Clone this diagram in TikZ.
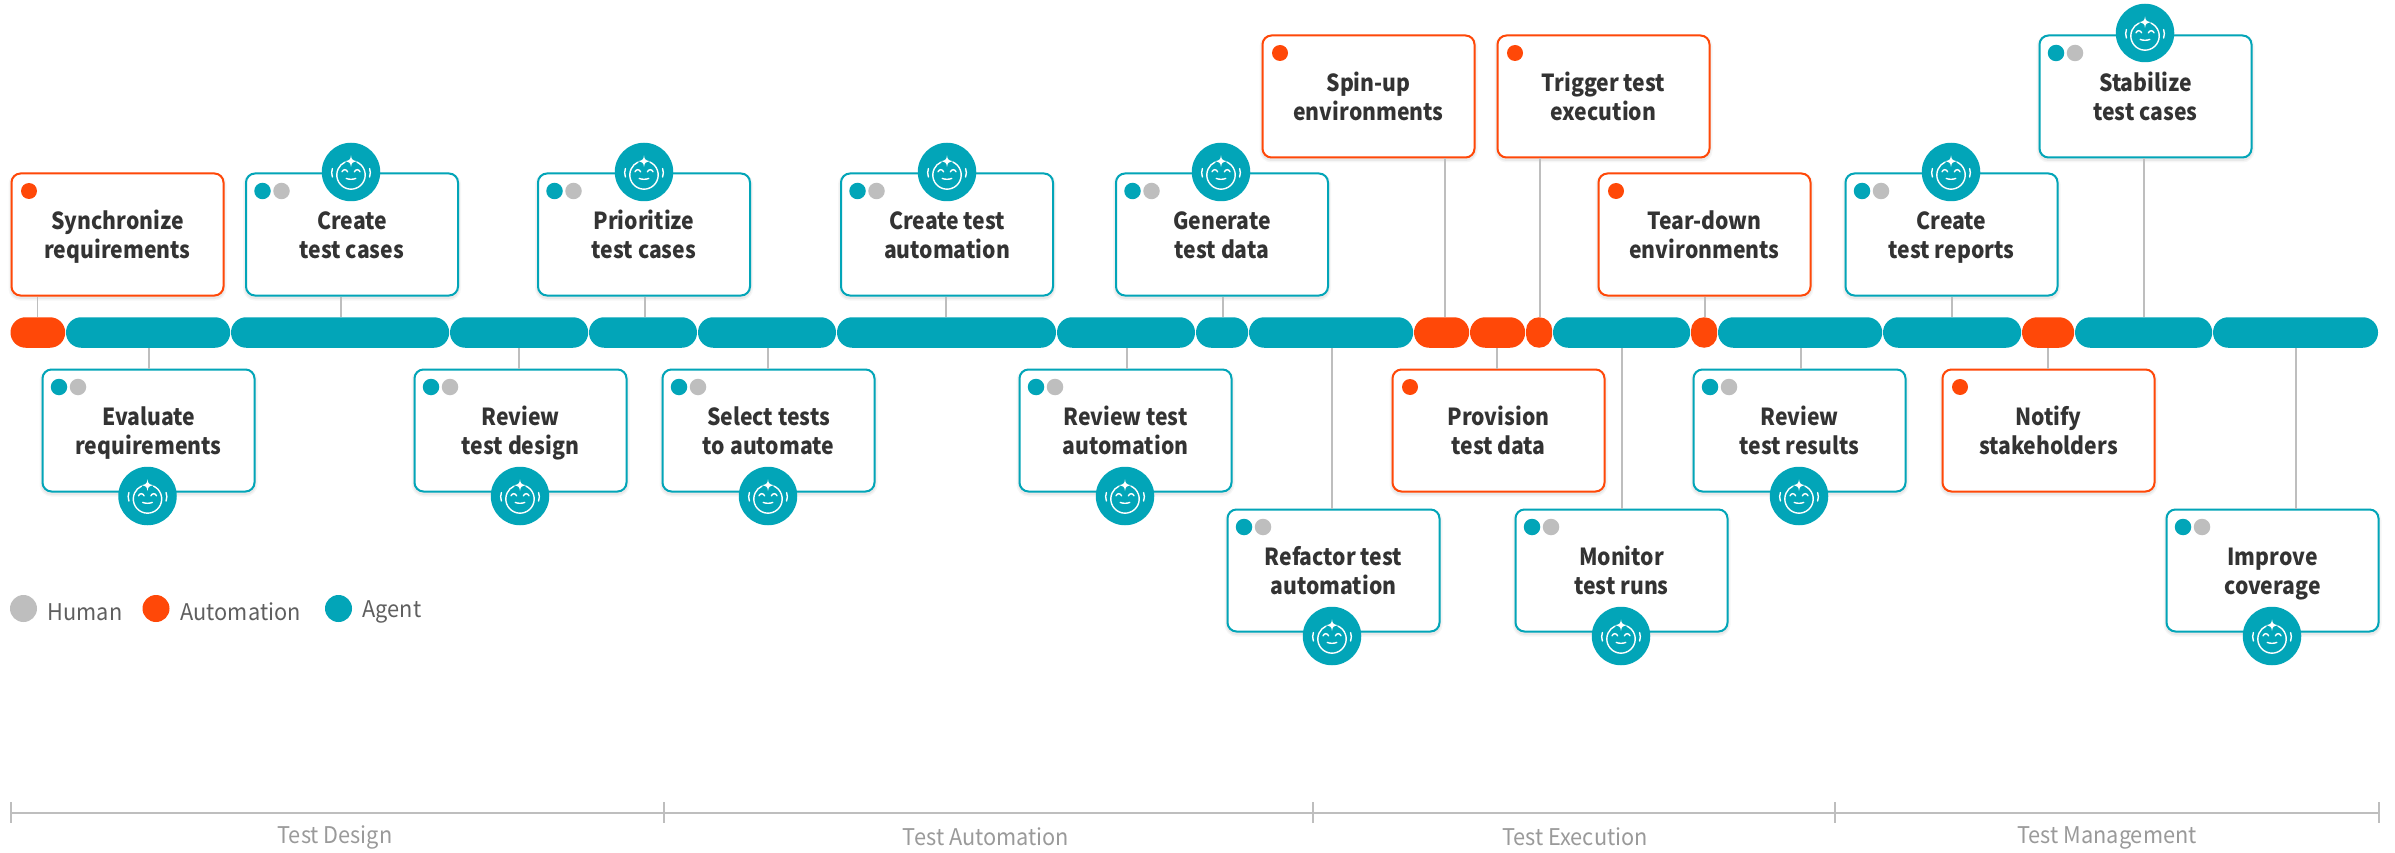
\documentclass[tikz,border=0pt]{standalone}
\usepackage{fontspec}
\setmainfont{Noto Sans CJK SC}
\newfontfamily\cardfont[FakeStretch=0.9]{Noto Sans CJK SC}
\newfontfamily\labelfont[FakeStretch=0.945]{Noto Sans CJK SC}
\usetikzlibrary{calc}
\definecolor{tealA}{HTML}{02A5B8}
\definecolor{orangeA}{HTML}{FF4808}
\definecolor{grayA}{HTML}{BEBEBE}
\definecolor{inkA}{HTML}{333333}
\definecolor{inkB}{HTML}{5F5F5F}
\definecolor{inkC}{HTML}{9A9A9A}
\tikzset{
 x=1pt,y=-1pt,
 cardbase/.style={rectangle,rounded corners=9pt,fill=white,line width=2pt,minimum width=212pt,minimum height=122pt,inner sep=0pt,
   preaction={draw=black,draw opacity=.035,line width=6pt,transform canvas={yshift=-2pt}},
   preaction={draw=black,draw opacity=.05,line width=3pt,transform canvas={yshift=-2pt}}},
 agentcard/.style={cardbase,draw=tealA},
 autocard/.style={cardbase,draw=orangeA},
 cardtext/.style={font=\cardfont\fontsize{23.5}{29}\selectfont\bfseries,text=inkA,align=center,inner sep=0pt},
 dotT/.style={circle,fill=tealA,minimum size=16.5pt,inner sep=0pt},
 dotO/.style={circle,fill=orangeA,minimum size=16pt,inner sep=0pt},
 dotG/.style={circle,fill=grayA,minimum size=16.5pt,inner sep=0pt},
 legdot/.style={circle,minimum size=27pt,inner sep=0pt},
 legtext/.style={font=\labelfont\fontsize{23}{28}\selectfont,text=inkB,anchor=west,inner sep=0pt},
 phasetext/.style={font=\labelfont\fontsize{23}{28}\selectfont,text=inkC,inner sep=0pt},
 iconbg/.style={circle,fill=tealA,minimum size=58.5pt,inner sep=0pt},
 conn/.style={draw=grayA,line width=1.2pt},
 seg/.style={rectangle,rounded corners=15.2pt,minimum height=30.5pt,inner sep=0pt},
 segT/.style={seg,fill=tealA},
 segO/.style={seg,fill=orangeA},
 iconline/.style={draw=white,line width=1.4pt,line cap=round},
 phaseline/.style={draw=grayA,line width=1.2pt},
}
\newcommand{\barseg}[4]{\node[#4,minimum width=#3pt-#2pt] (#1) at ({(#2+#3)/2},332.5) {};}
\newcommand{\babyicon}[3]{%
 \node[iconbg] (#1) at (#2,#3) {};
 \begin{scope}[shift={(#1.center)}]
  \draw[iconline] (6,-9.9) arc[start angle=-65,end angle=245,radius=14.2];
  \fill[white] (0,-16.6) .. controls (0.6,-12.4) and (1.2,-11.8) .. (5.9,-10.8) .. controls (1.2,-9.8) and (0.6,-9.2) .. (0,-5) .. controls (-0.6,-9.2) and (-1.2,-9.8) .. (-5.9,-10.8) .. controls (-1.2,-11.8) and (-0.6,-12.4) .. (0,-16.6) -- cycle;
  \draw[iconline] (-9,-0.2) .. controls (-7.8,-3) and (-4.6,-3) .. (-3.4,-0.2);
  \draw[iconline] (3.4,-0.2) .. controls (4.6,-3) and (7.8,-3) .. (9,-0.2);
  \draw[iconline] (-4.8,6.4) .. controls (-2,7.6) and (2,7.6) .. (4.8,6.4);
  \draw[iconline] (-18.6,-3.4) .. controls (-19.6,-0.8) and (-19.6,2) .. (-18.6,5);
  \draw[iconline] (18.6,-3.4) .. controls (19.6,-0.8) and (19.6,2) .. (18.6,5);
 \end{scope}}
\newcommand{\autobox}[4]{%
 \node[autocard] (#1) at (#2+107,#3+61.5) {};
 \node[dotO] (#1d) at (#2+18.5,#3+18) {};
 \node[cardtext] (#1t) at (#2+107,#3+64.8) {#4};}
\newcommand{\agentbox}[4]{%
 \node[agentcard] (#1) at (#2+107,#3+61.5) {};
 \node[dotT] (#1d) at (#2+17.5,#3+18) {};
 \node[dotG] (#1e) at (#2+36.5,#3+18) {};
 \node[cardtext] (#1t) at (#2+107,#3+64.8) {#4};}
\newcommand{\twol}[2]{\rule{0pt}{20pt}#1\\\rule[-7pt]{0pt}{7pt}#2}
\begin{document}
\begin{tikzpicture}
\useasboundingbox (0,0) rectangle (2395,853);
\fill[white] (0,0) rectangle (2395,853);

\barseg{s01}{10.5}{65.2}{segO}
\barseg{s02}{66}{230.2}{segT}
\barseg{s03}{231}{449.2}{segT}
\barseg{s04}{450}{588.2}{segT}
\barseg{s05}{589}{697}{segT}
\barseg{s06}{698}{836}{segT}
\barseg{s07}{837}{1056}{segT}
\barseg{s08}{1057}{1195}{segT}
\barseg{s09}{1196}{1248.2}{segT}
\barseg{s10}{1249}{1413.2}{segT}
\barseg{s11}{1414}{1469.2}{segO}
\barseg{s12}{1470}{1525.2}{segO}
\barseg{s13}{1526}{1552.2}{segO,rounded corners=13pt}
\barseg{s14}{1553}{1690.2}{segT}
\barseg{s15}{1691}{1717.2}{segO,rounded corners=13pt}
\barseg{s16}{1718}{1882.2}{segT}
\barseg{s17}{1883}{2021.2}{segT}
\barseg{s18}{2022}{2074.2}{segO}
\barseg{s19}{2075}{2212.2}{segT}
\barseg{s20}{2213}{2378}{segT}

\autobox{sync}{10.5}{173}{\twol{Synchronize}{requirements}}
\agentbox{ctc}{245}{173}{\twol{Create}{test cases}}
\agentbox{prio}{537}{173}{\twol{Prioritize}{test cases}}
\agentbox{cta}{840}{173}{\twol{Create test}{automation}}
\agentbox{gen}{1115}{173}{\twol{Generate}{test data}}
\autobox{spin}{1261.5}{35}{\twol{Spin-up}{environments}}
\autobox{trig}{1496.5}{35}{\twol{Trigger test}{execution}}
\autobox{tear}{1597.5}{173}{\twol{Tear-down}{environments}}
\agentbox{rep}{1844.5}{173}{\twol{Create}{test reports}}
\agentbox{stab}{2038.5}{35}{\twol{Stabilize}{test cases}}
\agentbox{eval}{41.5}{369}{\twol{Evaluate}{requirements}}
\agentbox{rtd}{413.5}{369}{\twol{Review}{test design}}
\agentbox{sel}{661.5}{369}{\twol{Select tests}{to automate}}
\agentbox{rta}{1018.5}{369}{\twol{Review test}{automation}}
\autobox{prov}{1391.5}{369}{\twol{Provision}{test data}}
\agentbox{rres}{1692.5}{369}{\twol{Review}{test results}}
\autobox{noti}{1941.5}{369}{\twol{Notify}{stakeholders}}
\agentbox{refa}{1226.5}{509}{\twol{Refactor test}{automation}}
\agentbox{moni}{1514.5}{509}{\twol{Monitor}{test runs}}
\agentbox{impr}{2165.5}{509}{\twol{Improve}{coverage}}

\foreach \cc/\ss/\xx in {sync/s01/37.5,ctc/s03/341,prio/s05/645,cta/s07/946,gen/s09/1223,spin/s11/1445,trig/s13/1540,tear/s15/1705,rep/s17/1952,stab/s19/2144}
  \draw[conn] (\xx,0 |- \cc.south) -- (\xx,0 |- \ss.north);
\foreach \cc/\ss/\xx in {eval/s02/149,rtd/s04/519,sel/s06/768,rta/s08/1127,prov/s12/1497,rres/s16/1801,noti/s18/2048,refa/s10/1332,moni/s14/1622,impr/s20/2296}
  \draw[conn] (\xx,0 |- \ss.south) -- (\xx,0 |- \cc.north);

\babyicon{ictc}{351}{172}
\babyicon{iprio}{644}{172}
\babyicon{icta}{947}{172}
\babyicon{igen}{1221}{172}
\babyicon{irep}{1951}{172}
\babyicon{istab}{2145}{33}
\babyicon{ieval}{147.5}{496}
\babyicon{irtd}{520}{496}
\babyicon{isel}{768}{496}
\babyicon{irta}{1125}{496}
\babyicon{irres}{1799}{496}
\babyicon{irefa}{1332}{636}
\babyicon{imoni}{1621}{636}
\babyicon{iimpr}{2272}{636}

\node[legdot,fill=grayA] (lh) at (23.5,608.5) {};
\node[legtext] (lht) at (47.5,612) {Human};
\node[legdot,fill=orangeA] (la) at (156,608.5) {};
\node[legtext] (lat) at (180.5,612) {Automation};
\node[legdot,fill=tealA] (lg) at (338.5,608.5) {};
\node[legtext] (lgt) at (362.5,612) {Agent};

\coordinate (p0) at (11,813);
\coordinate (p1) at (664,813);
\coordinate (p2) at (1313,813);
\coordinate (p3) at (1835,813);
\coordinate (p4) at (2379,813);
\draw[phaseline] (p0) -- (p4);
\foreach \p in {p0,p1,p2,p3,p4}
  \draw[draw=grayA,line width=1.2pt] ($(\p)+(0,-11)$) -- ($(\p)+(0,10)$);
\node[phasetext] (t1) at (335,837) {Test Design};
\node[phasetext] (t2) at (986,837) {Test Automation};
\node[phasetext] (t3) at (1575,837) {Test Execution};
\node[phasetext] (t4) at (2107,838) {Test Management};
\end{tikzpicture}
\end{document}
